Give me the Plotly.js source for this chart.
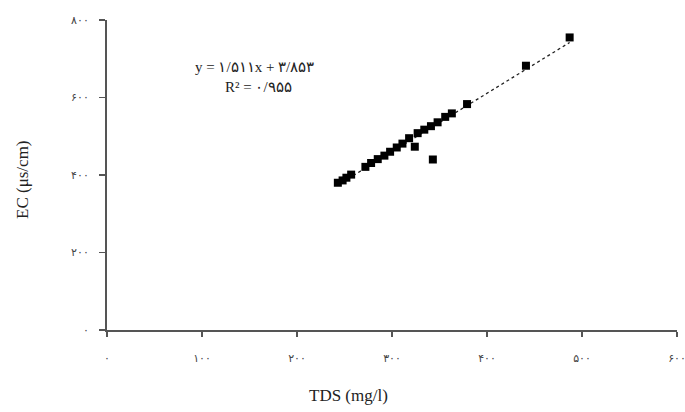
<!DOCTYPE html>
<html>
<head>
<meta charset="utf-8">
<script src="https://cdn.plot.ly/plotly-3.0.1.min.js"></script>
<style>html,body{margin:0;padding:0;background:#fff;}#chart{width:685px;height:412px;}</style>
</head>
<body>
<div id="chart"></div>
<script>
const tds = [243, 248, 252, 257, 272, 278, 285, 292, 298, 305, 311, 318, 324, 327, 334, 341, 348, 356, 343, 363, 379, 441, 487];
const ec  = [380, 386, 393, 401, 421, 431, 441, 450, 460, 471, 481, 495, 473, 508, 517, 526, 536, 550, 440, 559, 583, 682, 755];
const xTickVals = [0, 100, 200, 300, 400, 500, 600];
const xTickText = ['۰', '۱۰۰', '۲۰۰', '۳۰۰', '۴۰۰', '۵۰۰', '۶۰۰'];
const yTickVals = [0, 200, 400, 600, 800];
const yTickText = ['۰', '۲۰۰', '۴۰۰', '۶۰۰', '۸۰۰'];
const equationText = 'y = ۱/۵۱۱x + ۳/۸۵۳';
const r2Text = 'R² = ۰/۹۵۵';
const xTitle = 'TDS (mg/l)';
const yTitle = 'EC (μs/cm)';

// least-squares trendline from the data
const n = tds.length;
const mx = tds.reduce((a, b) => a + b, 0) / n;
const my = ec.reduce((a, b) => a + b, 0) / n;
let sxy = 0, sxx = 0;
for (let i = 0; i < n; i++) { sxy += (tds[i] - mx) * (ec[i] - my); sxx += (tds[i] - mx) ** 2; }
const slope = sxy / sxx, icpt = my - slope * mx;
const xMin = Math.min(...tds), xMax = Math.max(...tds);
const trendX = [xMin, xMax];
const trendY = trendX.map(v => slope * v + icpt);

const serif = 'Liberation Serif, DejaVu Serif, serif';
const data = [
  {x: trendX, y: trendY, mode: 'lines', line: {color: '#222', width: 1.3, dash: 'dot'}, hoverinfo: 'skip'},
  {x: tds, y: ec, mode: 'markers', marker: {symbol: 'square', size: 8, color: '#000'}}
];
const W = 570, H = 310;
const layout = {
  width: 685, height: 412,
  margin: {l: 107, r: 8, t: 20, b: 82},
  paper_bgcolor: '#fff', plot_bgcolor: '#fff',
  showlegend: false,
  font: {family: serif, color: '#222'},
  xaxis: {
    range: [0, 600], tickvals: xTickVals, ticktext: xTickText,
    showgrid: false, zeroline: false, showline: true, linecolor: '#555', linewidth: 2,
    ticks: 'outside', ticklen: 5, tickcolor: '#555', tickwidth: 1.5,
    ticklabelstandoff: 12, ticklabeloverflow: 'allow',
    tickfont: {size: 11, color: '#444', family: 'DejaVu Sans, sans-serif'}
  },
  yaxis: {
    range: [0, 800], tickvals: yTickVals, ticktext: yTickText,
    showgrid: false, zeroline: false, showline: true, linecolor: '#555', linewidth: 2,
    ticks: 'outside', ticklen: 6, tickcolor: '#555', tickwidth: 1.5,
    ticklabelstandoff: 8, ticklabeloverflow: 'allow',
    tickfont: {size: 11, color: '#444', family: 'DejaVu Sans, sans-serif'}
  },
  annotations: [
    {xref: 'paper', yref: 'paper', x: (255 - 107) / W, y: (330 - 67) / H, xanchor: 'center', yanchor: 'middle', text: equationText, showarrow: false, font: {size: 15, family: serif, color: '#222'}},
    {xref: 'paper', yref: 'paper', x: (258 - 107) / W, y: (330 - 87) / H, xanchor: 'center', yanchor: 'middle', text: r2Text, showarrow: false, font: {size: 15, family: serif, color: '#222'}},
    {xref: 'paper', yref: 'paper', x: (348 - 107) / W, y: (330 - 395) / H, xanchor: 'center', yanchor: 'middle', text: xTitle, showarrow: false, font: {size: 17, family: serif, color: '#222'}},
    {xref: 'paper', yref: 'paper', x: (22 - 107) / W, y: (330 - 180) / H, xanchor: 'center', yanchor: 'middle', textangle: -90, text: yTitle, showarrow: false, font: {size: 17, family: serif, color: '#222'}}
  ]
};
Plotly.newPlot('chart', data, layout, {staticPlot: true, displayModeBar: false});
</script>
</body>
</html>
